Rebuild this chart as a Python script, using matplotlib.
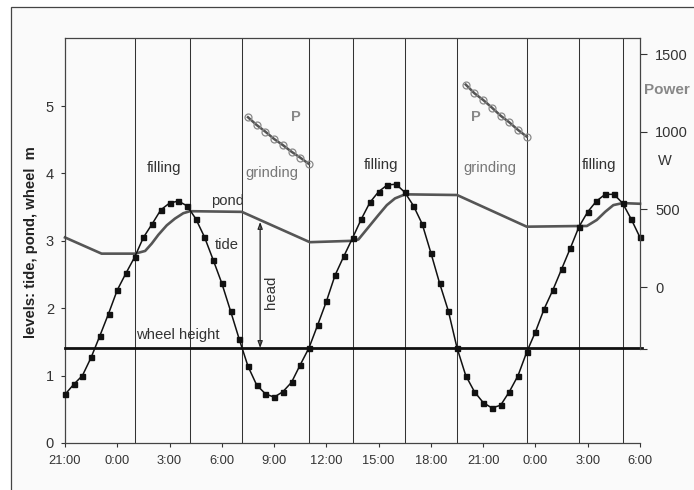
#!/usr/bin/env python3
"""Tide mill levels: tide, pond and wheel height, with power while grinding."""

import matplotlib

matplotlib.use("Agg")
import matplotlib.pyplot as plt
from matplotlib.patches import Rectangle

plt.rcParams["font.family"] = ["Liberation Sans", "DejaVu Sans"]

W, H = 694, 490

# hours after the first 21:00, one tide reading every half hour
tide_hours = [i / 2 for i in range(67)]
tide_level = [
    0.72, 0.87, 1.00, 1.27, 1.59, 1.92, 2.27, 2.52, 2.76, 3.05, 3.25, 3.46,
    3.56, 3.59, 3.52, 3.33, 3.06, 2.72, 2.37, 1.96, 1.54, 1.14, 0.86, 0.73,
    0.68, 0.76, 0.90, 1.16, 1.41, 1.75, 2.10, 2.49, 2.77, 3.04, 3.32, 3.57,
    3.73, 3.83, 3.84, 3.72, 3.52, 3.25, 2.82, 2.37, 1.96, 1.41, 1.00, 0.76,
    0.60, 0.52, 0.56, 0.76, 1.00, 1.35, 1.65, 1.99, 2.27, 2.58, 2.89, 3.21,
    3.43, 3.59, 3.69, 3.69, 3.56, 3.32, 3.05,
]

pond_hours = [
    0, 2.1, 4.02, 4.6, 4.98, 5.36, 5.84, 6.31, 6.79, 7.18, 10.15, 14.05,
    16.46, 16.84, 17.22, 17.6, 17.98, 18.47, 18.94, 19.52, 22.5, 26.5,
    29.52, 29.95, 30.52, 31.0, 31.47, 32.0, 33.0,
]
pond_level = [
    3.05, 2.81, 2.81, 2.85, 2.96, 3.09, 3.23, 3.33, 3.41, 3.44, 3.43, 2.98,
    3.00, 3.02, 3.14, 3.26, 3.38, 3.53, 3.63, 3.69, 3.68, 3.21,
    3.22, 3.22, 3.31, 3.43, 3.53, 3.56, 3.55,
]

power_hours_1 = [10.5, 11.0, 11.5, 12.0, 12.5, 13.0, 13.5, 14.0]
power_watts_1 = [1093, 1043, 1000, 953, 914, 871, 833, 792]
power_hours_2 = [23.0, 23.5, 24.0, 24.5, 25.0, 25.5, 26.0, 26.5]
power_watts_2 = [1303, 1247, 1204, 1155, 1103, 1060, 1011, 968]

wheel_height = 1.41
phase_changes = [4.0, 7.2, 10.15, 14.0, 16.5, 19.5, 22.5, 26.5, 29.5, 32.0]

time_ticks = list(range(0, 34, 3))
time_labels = ["21:00", "0:00", "3:00", "6:00", "9:00", "12:00", "15:00",
               "18:00", "21:00", "0:00", "3:00", "6:00"]
level_ticks = [0, 1, 2, 3, 4, 5]
power_ticks = [-400, 0, 500, 1000, 1500]
power_labels = ["", "0", "500", "1000", "1500"]


def label(x, y, s, **kw):
    """Place a text by its pixel position in the picture."""
    kw.setdefault("ha", "center")
    kw.setdefault("va", "center")
    kw.setdefault("fontsize", 10.8)
    kw.setdefault("color", "#333333")
    fig.text(x / W, 1 - y / H, s, **kw)


fig = plt.figure(figsize=(W / 100, H / 100), dpi=100, facecolor="white")

# scanned page: off-white paper with a border along the top and left
fig.add_artist(Rectangle((11 / W, -0.02), 1.02 - 11 / W, 1.02 - 7 / H, transform=fig.transFigure,
                         facecolor="#fafafa", edgecolor="#444444", linewidth=0.9, zorder=-1))

ax = fig.add_axes([65 / W, 1 - 443 / H, 575 / W, 405 / H])
ax.patch.set_alpha(0)
ax.set_xlim(0, 33)
ax.set_ylim(0, 6.01)

for h in phase_changes:
    ax.axvline(h, color="#333333", linewidth=0.75, zorder=1)

ax.plot(pond_hours, pond_level, color="#555555", linewidth=1.9, zorder=2, clip_on=False)
ax.plot(tide_hours, tide_level, color="#111111", linewidth=1.1, marker="s",
        markersize=3.6, zorder=3, clip_on=False)
ax.plot([0, 33.1], [wheel_height, wheel_height], color="#111111", linewidth=2.0,
        zorder=4, clip_on=False)
ax.annotate("", xy=(11.2, 3.28), xytext=(11.2, wheel_height),
            arrowprops=dict(arrowstyle="<|-|>,head_width=0.15,head_length=0.4",
                            color="#222222", linewidth=0.9, shrinkA=0, shrinkB=0, fill=False))

ax.set_xticks(time_ticks)
ax.set_xticklabels(time_labels)
ax.set_yticks(level_ticks)
ax.tick_params(axis="both", length=3, width=0.8, color="#333333", labelcolor="#333333",
               labelsize=9.3)
ax.tick_params(axis="x", pad=6)
ax.tick_params(axis="y", pad=5)
ax.tick_params(axis="y", labelsize=10.5)
for side in ax.spines.values():
    side.set_color("#444444")
    side.set_linewidth(0.9)
ax.spines["right"].set_visible(False)

# power scale sits on the same frame, stops at the wheel height
ax2 = ax.twinx()
ax2.set_ylim(-1004, 1603)
ax2.plot(power_hours_1, power_watts_1, color="#555555", linewidth=1.8, marker="o",
         markersize=5, markerfacecolor="none", markeredgecolor="#888888",
         markeredgewidth=0.9)
ax2.plot(power_hours_2, power_watts_2, color="#555555", linewidth=1.8, marker="o",
         markersize=5, markerfacecolor="none", markeredgecolor="#888888",
         markeredgewidth=0.9)
ax2.set_yticks(power_ticks)
ax2.set_yticklabels(power_labels)
ax2.tick_params(axis="y", length=5, width=0.8, color="#333333", labelcolor="#333333",
                labelsize=10.5, pad=6)
for name, side in ax2.spines.items():
    side.set_visible(name == "right")
ax2.spines["right"].set_bounds(-400, 1603)
ax2.spines["right"].set_color("#444444")
ax2.spines["right"].set_linewidth(0.9)

label(31, 242, "levels: tide, pond, wheel  m", rotation=90, fontweight="bold",
      fontsize=10.7, color="#222222")
label(667, 90, "Power", fontweight="bold", color="#888888", fontsize=11)
label(665, 161, "W", fontsize=10.5)
label(296, 117, "P", fontweight="bold", color="#888888", fontsize=10.5)
label(476, 117, "P", fontweight="bold", color="#888888", fontsize=10.5)
label(164, 168, "filling")
label(381, 165, "filling")
label(599, 165, "filling")
label(272, 173, "grinding", color="#777777", fontsize=10.6)
label(490, 168, "grinding", color="#777777", fontsize=10.6)
label(228, 201, "pond", fontsize=10.6)
label(227, 245, "tide", fontsize=10.6)
label(178, 335, "wheel height", fontsize=10.7)
label(271, 292, "head", rotation=90, fontsize=10.8)

fig.savefig("out.png", dpi=100)
plt.close(fig)
